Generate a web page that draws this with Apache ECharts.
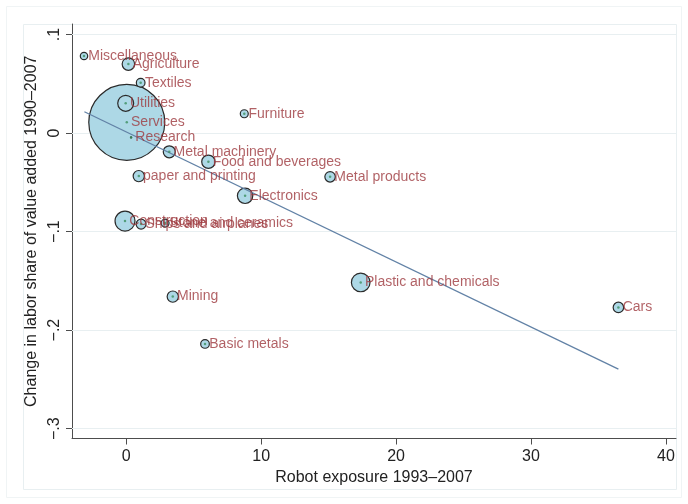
<!DOCTYPE html>
<html><head><meta charset="utf-8">
<script src="https://cdn.jsdelivr.net/npm/echarts@6/dist/echarts.min.js"></script>
<style>html,body{margin:0;padding:0;background:#fff}#c{width:688px;height:504px}</style>
</head><body><div id="c"></div>
<script>
const sectors = ['Services','Construction','Plastic and chemicals','Utilities','Electronics','Food and beverages','Agriculture','Metal machinery','paper and printing','Mining','Metal products','Cars','Ships and airplanes','Stone and ceramics','Textiles','Basic metals','Furniture','Miscellaneous','Research'];
const robotExposure = [0.04, -0.09, 17.38, -0.04, 8.81, 6.09, 0.16, 3.19, 0.93, 3.45, 15.11, 36.48, 1.1, 2.88, 1.07, 5.84, 8.75, -3.13, 0.36];
const laborShareChange = [0.0109, -0.0893, -0.1516, 0.0302, -0.0637, -0.0291, 0.070, -0.019, -0.0437, -0.166, -0.0444, -0.177, -0.0924, -0.0914, 0.0511, -0.214, 0.0196, 0.0782, -0.0044];
const employmentWeight = [100, 6.9, 6.0, 4.4, 4.1, 3.1, 2.7, 2.5, 2.2, 2.2, 1.9, 1.9, 1.7, 1.1, 1.3, 1.3, 1.1, 0.95, 0.02];
const fitX = [-3.1, 36.48];
const fitY = [0.0216, -0.2396];
const xTicks = [0, 10, 20, 30, 40];
const xTickLabels = ['0', '10', '20', '30', '40'];
const yTicks = [-0.3, -0.2, -0.1, 0, 0.1];
const yTickLabels = ['\u2212.3', '\u2212.2', '\u2212.1', '0', '.1'];

function lookup(ticks, labels, v) {
  for (let i = 0; i < ticks.length; i++) if (Math.abs(ticks[i] - v) < 1e-9) return labels[i];
  return '';
}
const FONT = 'Liberation Sans, Arial, Helvetica, sans-serif';
const chart = echarts.init(document.getElementById('c'), null, {renderer: 'canvas'});
const pts = sectors.map((s, i) => ({name: s, value: [robotExposure[i], laborShareChange[i], employmentWeight[i]]}));

chart.setOption({
  animation: false,
  backgroundColor: '#fff',
  textStyle: {fontFamily: FONT},
  graphic: [
    {type: 'rect', shape: {x: 6.5, y: 6.5, width: 675, height: 491}, style: {fill: 'none', stroke: '#f0f4f5', lineWidth: 1}, silent: true, z: -10},
    {type: 'rect', shape: {x: 23.5, y: 24.5, width: 653, height: 465}, style: {fill: 'none', stroke: '#e8eff1', lineWidth: 1}, silent: true, z: -10}
  ],
  grid: {left: 72, right: 12, top: 24, bottom: 65.5, containLabel: false},
  xAxis: {
    type: 'value', min: -4.02, max: 40.75,
    splitLine: {show: false},
    axisLine: {onZero: false, lineStyle: {color: '#4d4d4d', width: 1}},
    axisTick: {customValues: xTicks, length: 6, lineStyle: {color: '#4d4d4d'}},
    axisLabel: {customValues: xTicks, formatter: v => lookup(xTicks, xTickLabels, v), fontSize: 16, color: '#222', margin: 10, fontFamily: FONT},
    name: 'Robot exposure 1993\u20132007', nameLocation: 'middle', nameGap: 31,
    nameTextStyle: {fontSize: 16, color: '#222', fontFamily: FONT}
  },
  yAxis: {
    type: 'value', min: -0.310, max: 0.1107,
    splitLine: {show: false},
    axisLine: {onZero: false, lineStyle: {color: '#4d4d4d', width: 1}},
    axisTick: {customValues: yTicks, length: 6, lineStyle: {color: '#4d4d4d'}},
    axisLabel: {customValues: yTicks, formatter: v => lookup(yTicks, yTickLabels, v), fontSize: 16, color: '#222', margin: 9, rotate: 90, fontFamily: FONT},
    name: 'Change in labor share of value added 1990\u20132007', nameLocation: 'middle', nameGap: 29,
    nameTextStyle: {fontSize: 16, color: '#222', fontFamily: FONT}
  },
  series: [
    {
      type: 'line', data: [], z: 1, silent: true,
      markLine: {
        z: 1, silent: true, symbol: 'none', animation: false,
        label: {show: false},
        lineStyle: {color: '#e8eff1', width: 1, type: 'solid'},
        data: yTicks.map(v => ({yAxis: v}))
      }
    },
    {
      type: 'scatter', data: pts, z: 2, silent: true,
      symbolSize: d => 7.6 * Math.sqrt(d[2]),
      itemStyle: {color: '#add8e6', borderColor: '#2a2a2a', borderWidth: 1.2, opacity: 1},
      emphasis: {disabled: true}
    },
    {
      type: 'line', data: fitX.map((x, i) => [x, fitY[i]]), z: 3, silent: true,
      showSymbol: false, symbol: 'none',
      lineStyle: {color: '#6282a6', width: 1.3}
    },
    {
      type: 'scatter', data: pts, z: 4, silent: true,
      symbolSize: 2.5,
      itemStyle: {color: '#3d9060'},
      label: {show: true, formatter: p => p.name, position: 'right', distance: 3, color: '#9e3a3e', fontSize: 14, fontFamily: FONT},
      labelLayout: {hideOverlap: false},
      emphasis: {disabled: true}
    }
  ]
});
</script>
</body></html>
